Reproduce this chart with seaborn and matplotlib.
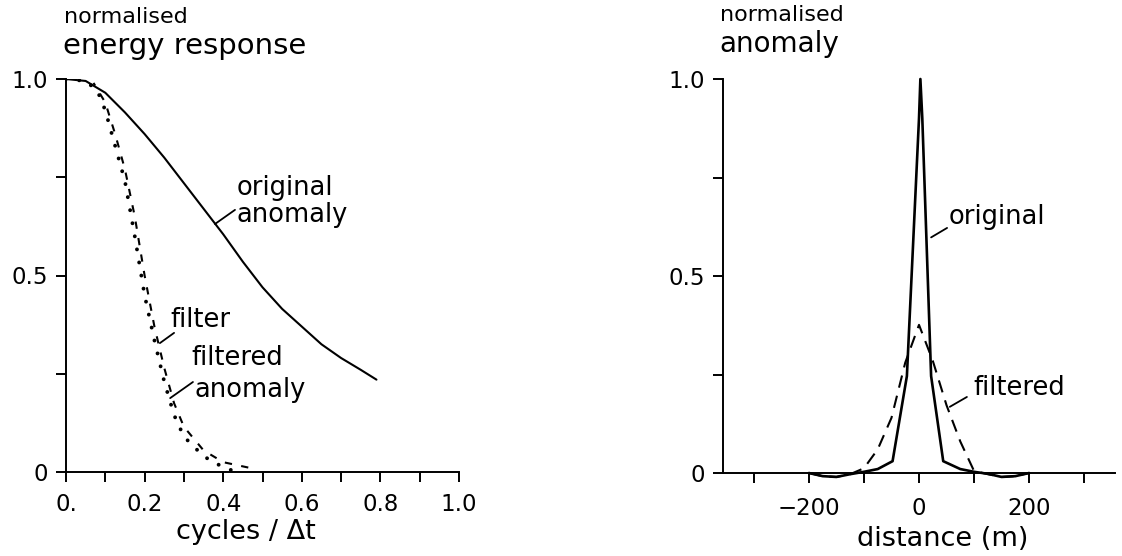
import numpy as np
import pandas as pd
import matplotlib
matplotlib.use("Agg")
import matplotlib.pyplot as plt
import seaborn as sns

# ---------------- data ----------------
# Left panel: normalised energy response vs cycles/Δt
orig_freq = [0.0, 0.05, 0.10, 0.15, 0.20, 0.25, 0.30, 0.35, 0.40, 0.45, 0.50,
             0.55, 0.60, 0.65, 0.70, 0.75, 0.79]
orig_resp = [1.0, 0.995, 0.965, 0.915, 0.86, 0.80, 0.735, 0.67, 0.605, 0.535, 0.47,
             0.415, 0.37, 0.325, 0.29, 0.26, 0.235]

filter_freq = [0.0, 0.05, 0.08, 0.10, 0.125, 0.15, 0.175, 0.20, 0.225, 0.25,
               0.275, 0.30, 0.35, 0.40, 0.42]
filter_resp = [1.0, 0.995, 0.97, 0.92, 0.83, 0.74, 0.60, 0.45, 0.335, 0.23,
               0.145, 0.09, 0.04, 0.012, 0.005]

filt_freq = [0.07, 0.10, 0.125, 0.15, 0.175, 0.20, 0.225, 0.25, 0.275, 0.30,
             0.35, 0.40, 0.47]
filt_resp = [0.99, 0.94, 0.86, 0.77, 0.65, 0.50, 0.37, 0.265, 0.175, 0.115,
             0.055, 0.025, 0.01]

# Right panel: normalised anomaly vs distance (m)
orig_dist = [-200, -175, -150, -125, -100, -75, -48, -22, 0, 2.5, 6, 22, 44,
             75, 100, 125, 150, 175, 200]
orig_anom = [0.0, -0.008, -0.01, -0.003, 0.003, 0.01, 0.03, 0.246, 0.9, 1.0,
             0.9, 0.246, 0.03, 0.01, 0.003, -0.002, -0.01, -0.008, 0.0]

filt_dist = [-200, -175, -150, -125, -100, -75, -50, -25, 0, 25, 50, 75, 100,
             125, 150, 175, 200]
filt_anom = [0.0, -0.008, -0.01, -0.003, 0.012, 0.06, 0.14, 0.28, 0.376, 0.285,
             0.172, 0.08, 0.005, -0.003, -0.01, -0.008, 0.0]

left_xticks = [0.0, 0.1, 0.2, 0.3, 0.4, 0.5, 0.6, 0.7, 0.8, 0.9, 1.0]
left_xticklabels = ["0.", "", "0.2", "", "0.4", "", "0.6", "", "0.8", "", "1.0"]
y_ticks = [0.0, 0.25, 0.5, 0.75, 1.0]
y_ticklabels = ["0", "", "0.5", "", "1.0"]
right_xticks = [-300, -200, -100, 0, 100, 200, 300]
right_xticklabels = ["", "\u2212200", "", "0", "", "200", ""]

# ---------------- style ----------------
sns.set_style("ticks")
plt.rcParams["font.family"] = ["DejaVu Sans"]
plt.rcParams["text.color"] = "black"
W, H = 1122, 556
fig = plt.figure(figsize=(W / 100, H / 100), dpi=100)

ax1 = fig.add_axes([66 / W, 1 - 472 / H, 393 / W, 393 / H])
ax2 = fig.add_axes([723 / W, 1 - 473 / H, 392 / W, 394 / H])

LW = 1.5
FS_TICK = 16.5
FS_ANN = 18.5

# left panel curves
sns.lineplot(x=orig_freq, y=orig_resp, ax=ax1, color="black", lw=LW,
             sort=False, estimator=None)
sns.lineplot(x=filter_freq, y=filter_resp, ax=ax1, color="black", lw=2.8,
             linestyle=(0, (0.01, 3.4)), dash_capstyle="round", sort=False,
             estimator=None)
sns.lineplot(x=filt_freq, y=filt_resp, ax=ax1, color="black", lw=LW,
             linestyle=(2, (3.5, 4.5)), sort=False, estimator=None)

# right panel curves
sns.lineplot(x=orig_dist, y=orig_anom, ax=ax2, color="black", lw=1.9,
             sort=False, estimator=None, clip_on=False)
sns.lineplot(x=filt_dist, y=filt_anom, ax=ax2, color="black", lw=LW,
             linestyle=(0, (6, 4)), sort=False, estimator=None, clip_on=False)

for ax in (ax1, ax2):
    sns.despine(ax=ax)
    for s in ("left", "bottom"):
        ax.spines[s].set_linewidth(1.4)
        ax.spines[s].set_color("black")
    ax.set_ylim(0, 1.0)
    ax.set_yticks(y_ticks)
    ax.set_yticklabels(y_ticklabels)
    ax.tick_params(axis="both", direction="out", length=7, width=1.4,
                   labelsize=FS_TICK, colors="black")
    ax.tick_params(axis="y", pad=6)
    ax.set_xlabel("")
    ax.set_ylabel("")
    ax.patch.set_alpha(0)

ax1.tick_params(axis="x", pad=8)
ax2.tick_params(axis="x", pad=10)

ax1.set_xlim(0, 1.0)
ax1.set_xticks(left_xticks)
ax1.set_xticklabels(left_xticklabels)

ax2.set_xlim(-356, 356)
ax2.set_xticks(right_xticks)
ax2.set_xticklabels(right_xticklabels)

# axis titles
fig.text(64 / W, 1 - 17 / H, "normalised", fontsize=16, va="center", ha="left")
fig.text(63 / W, 1 - 46 / H, "energy response", fontsize=21, va="center", ha="left")
fig.text(246 / W, 1 - 532 / H, "cycles / \u0394t", fontsize=19.5, va="center", ha="center")

fig.text(720 / W, 1 - 15 / H, "normalised", fontsize=16, va="center", ha="left")
fig.text(719 / W, 1 - 44 / H, "anomaly", fontsize=20, va="center", ha="left")
fig.text(943 / W, 1 - 539 / H, "distance (m)", fontsize=19.5, va="center", ha="center")

# left annotations
ax1.text(0.435, 0.723, "original", fontsize=FS_ANN, va="center", ha="left")
ax1.text(0.435, 0.654, "anomaly", fontsize=FS_ANN, va="center", ha="left")
ax1.plot([0.379, 0.43], [0.631, 0.667], color="black", lw=1.3)
ax1.text(0.265, 0.387, "filter", fontsize=FS_ANN, va="center", ha="left")
ax1.plot([0.239, 0.275], [0.328, 0.354], color="black", lw=1.3)
ax1.text(0.32, 0.29, "filtered", fontsize=FS_ANN, va="center", ha="left")
ax1.text(0.328, 0.209, "anomaly", fontsize=FS_ANN, va="center", ha="left")
ax1.plot([0.265, 0.323], [0.188, 0.229], color="black", lw=1.3)

# right annotations
ax2.text(53, 0.65, "original", fontsize=FS_ANN, va="center", ha="left")
ax2.plot([22, 51], [0.598, 0.622], color="black", lw=1.3)
ax2.text(98, 0.216, "filtered", fontsize=FS_ANN, va="center", ha="left")
ax2.plot([56, 87], [0.168, 0.193], color="black", lw=1.3)

fig.savefig("out.png", dpi=100, facecolor="white")
